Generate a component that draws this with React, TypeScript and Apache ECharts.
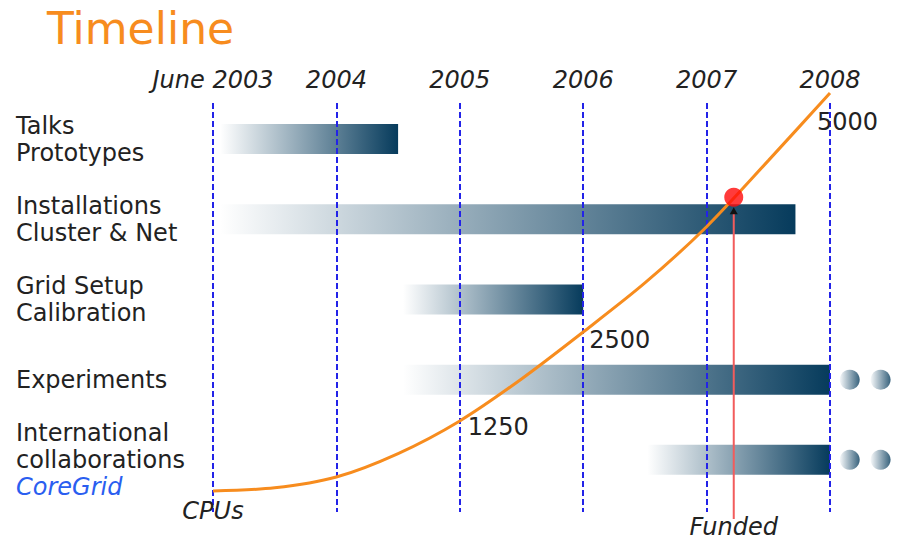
import React, { useEffect, useRef } from "react";
import * as echarts from "echarts";

// ---- data ----
const yearLabels = ["June 2003", "2004", "2005", "2006", "2007", "2008"];
const taskLabels = [
  "Talks\nPrototypes",
  "Installations\nCluster & Net",
  "Grid Setup\nCalibration",
  "Experiments",
  "International\ncollaborations\n{cg|CoreGrid}",
];
// timeline position: 0 = June 2003, 1 = 2004, ... 5 = 2008
const taskStart = [0.06, 0.06, 1.54, 1.54, 3.52];
const taskEnd = [1.5, 4.72, 3.0, 5.0, 5.0];
const continuingRows = [3, 4];
const continuationDots = [5.16, 5.41];

const cpuX = [0, 0.5, 1, 1.5, 2, 2.5, 3, 3.5, 4, 4.5, 5];
const cpuY = [0, 40, 176, 470, 880, 1407, 1997, 2613, 3320, 4150, 5000];
const milestoneX = [2, 3, 5];
const milestoneLabel = ["1250", "2500", "5000"];
const fundedX = 4.22;
const fundedCPUs = 3690;

const FONT = "DejaVu Sans";
const DARK = "#063b5c";
const ORANGE = "#f78c1e";

export default function App() {
  const ref = useRef<HTMLDivElement>(null);

  useEffect(() => {
    if (!ref.current) return;
    const chart = echarts.init(ref.current, undefined, { renderer: "svg" });

    const labelOffsets = [[8, 6], [6, 8], [-13, 29]];
    const lineData = cpuX.map((x, i) => {
      const m = milestoneX.indexOf(x);
      const item: any = { value: [x, cpuY[i]] };
      if (m >= 0) {
        item.label = {
          show: true,
          formatter: milestoneLabel[m],
          position: "right",
          distance: 0,
          offset: labelOffsets[m],
          fontSize: 24,
          color: "#222",
          fontFamily: FONT,
        };
      }
      if (i === 0) {
        item.label = {
          show: true,
          formatter: "CPUs",
          position: "bottom",
          distance: 8,
          fontSize: 24,
          fontStyle: "italic",
          color: "#222",
          fontFamily: FONT,
        };
      }
      return item;
    });

    const dotData: number[][] = [];
    continuingRows.forEach((r) => continuationDots.forEach((x) => dotData.push([x, r])));

    const barGradient = () =>
      new echarts.graphic.LinearGradient(0, 0, 1, 0, [
        { offset: 0, color: "#ffffff" },
        { offset: 1, color: DARK },
      ]);

    chart.setOption({
      animation: false,
      textStyle: { fontFamily: FONT },
      title: {
        text: "Timeline",
        left: 42,
        top: 1,
        textStyle: { color: ORANGE, fontSize: 44, fontWeight: "normal", fontFamily: FONT },
      },
      grid: { left: 213, right: 67, top: 103, bottom: 29 },
      xAxis: {
        type: "value",
        position: "top",
        min: 0,
        max: 5,
        interval: 1,
        z: 3,
        axisLine: { show: false },
        axisTick: { show: false },
        axisLabel: {
          formatter: (v: number) => yearLabels[Math.round(v)] ?? "",
          fontSize: 24,
          fontStyle: "italic",
          color: "#222",
          margin: 11,
          fontFamily: FONT,
        },
        splitLine: {
          show: true,
          lineStyle: { color: "#2323e8", type: [6, 3], width: 2 },
        },
      },
      yAxis: [
        { type: "value", min: -0.45, max: 4.65, inverse: true, show: false },
        { type: "value", min: -264, max: 4874, show: false },
      ],
      series: [
        {
          type: "custom",
          name: "tasks",
          z: 2,
          xAxisIndex: 0,
          yAxisIndex: 0,
          data: taskStart.map((s, i) => [s, i, taskEnd[i]]),
          encode: { x: [0, 2], y: 1 },
          renderItem: (params: any, api: any) => {
            const row = api.value(1);
            const p0 = api.coord([api.value(0), row]);
            const p1 = api.coord([api.value(2), row]);
            const h = 30;
            return {
              type: "rect",
              shape: { x: p0[0], y: p0[1] - h / 2, width: p1[0] - p0[0], height: h },
              style: { fill: barGradient() },
            };
          },
        },
        {
          type: "custom",
          name: "taskLabels",
          yAxisIndex: 0,
          data: taskLabels.map((_, i) => [0, i]),
          encode: { x: 0, y: 1 },
          renderItem: (params: any, api: any) => {
            const i = api.value(1);
            const p = api.coord([0, i]);
            return {
              type: "text",
              x: params.coordSys.x - 197,
              y: p[1],
              style: {
                text: taskLabels[i],
                fill: "#222",
                fontSize: 24,
                fontFamily: FONT,
                lineHeight: 27,
                align: "left",
                verticalAlign: "middle",
                rich: {
                  cg: {
                    fill: "#2a5ef0",
                    fontStyle: "italic",
                    fontSize: 24,
                    fontFamily: FONT,
                    lineHeight: 27,
                  },
                },
              },
            };
          },
        },
        {
          type: "scatter",
          name: "continues",
          yAxisIndex: 0,
          clip: false,
          symbolSize: 20,
          data: dotData,
          itemStyle: {
            color: new echarts.graphic.LinearGradient(0, 0, 1, 0, [
              { offset: 0, color: "#f4f7f9" },
              { offset: 1, color: DARK },
            ]),
          },
        },
        {
          type: "line",
          name: "CPUs",
          yAxisIndex: 1,
          z: 4,
          clip: false,
          smooth: 0.3,
          showSymbol: true,
          symbolSize: 0,
          data: lineData,
          lineStyle: { color: ORANGE, width: 3 },
          itemStyle: { color: ORANGE },
        },
        {
          type: "custom",
          name: "funded",
          yAxisIndex: 1,
          z: 4,
          data: [[fundedX, fundedCPUs]],
          encode: { x: 0, y: 1 },
          renderItem: (params: any, api: any) => {
            const p = api.coord([api.value(0), api.value(1)]);
            const bottom = params.coordSys.y + params.coordSys.height + 7;
            return {
              type: "group",
              children: [
                {
                  type: "line",
                  shape: { x1: p[0], y1: p[1] + 16, x2: p[0], y2: bottom },
                  style: { stroke: "#f25c5c", lineWidth: 2 },
                },
                {
                  type: "polygon",
                  shape: { points: [[p[0], p[1] + 10], [p[0] - 4, p[1] + 17], [p[0] + 4, p[1] + 17]] },
                  style: { fill: "#111" },
                },
                {
                  type: "text",
                  x: p[0],
                  y: bottom + 8,
                  style: {
                    text: "Funded",
                    fontSize: 24,
                    fontStyle: "italic",
                    fontFamily: FONT,
                    fill: "#222",
                    align: "center",
                    verticalAlign: "middle",
                  },
                },
              ],
            };
          },
        },
        {
          type: "scatter",
          name: "fundedPoint",
          yAxisIndex: 1,
          z: 5,
          clip: false,
          symbolSize: 19,
          data: [[fundedX, fundedCPUs]],
          itemStyle: { color: "#ff0a0a" },
        },
      ],
    });

    return () => chart.dispose();
  }, []);

  return (
    <div
      ref={ref}
      style={{ position: "fixed", left: 0, top: 0, width: 897, height: 541, background: "#fff" }}
    />
  );
}
